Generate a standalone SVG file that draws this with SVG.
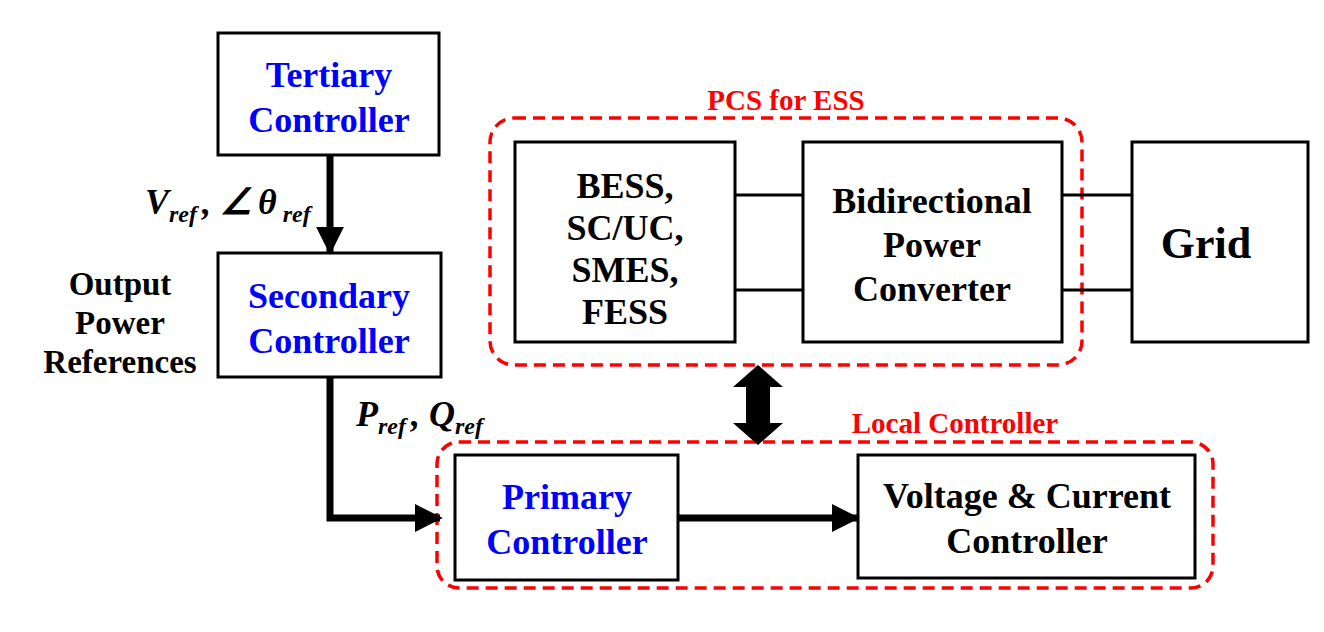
<svg xmlns="http://www.w3.org/2000/svg" width="1324" height="632" viewBox="0 0 1324 632">
<style>
.box{fill:#fff;stroke:#000;stroke-width:3}
.dash{fill:none;stroke:#f00;stroke-width:3.5;stroke-dasharray:12 7}
text{font-family:"Liberation Serif",serif;font-weight:bold;text-anchor:middle}
.b{fill:#00f;font-size:36px}
.k{fill:#000;font-size:36px}
.r{fill:#f00;font-size:29px}
.s{font-size:33px}
.i{font-style:italic;text-anchor:start;font-size:36px}
.sub{font-size:24px}
.line{stroke:#000;stroke-width:3;fill:none}
.thick{stroke:#000;stroke-width:7;fill:none}
</style>
<defs><marker id="ah" viewBox="0 0 10 10" refX="9" refY="5" markerWidth="4" markerHeight="4" markerUnits="strokeWidth" orient="auto"><path d="M0,0L10,5L0,10z" fill="#000"/></marker></defs>
<rect width="1324" height="632" fill="#fff"/>
<g id="pcs"><rect class="dash" x="490" y="118" width="592" height="247" rx="24"/><text class="r" x="786" y="110">PCS for ESS</text></g>
<g id="local"><rect class="dash" x="437" y="442" width="776" height="146" rx="22"/><text class="r" x="955" y="433">Local Controller</text></g>
<g id="tertiary"><rect class="box" x="218" y="33" width="221" height="122"/><text class="b" x="329" y="87">Tertiary</text><text class="b" x="329" y="132">Controller</text></g>
<g id="secondary"><rect class="box" x="218" y="253" width="223" height="124"/><text class="b" x="329" y="308">Secondary</text><text class="b" x="329" y="353">Controller</text></g>
<g id="primary"><rect class="box" x="455" y="455" width="223" height="125"/><text class="b" x="567" y="509">Primary</text><text class="b" x="567" y="554">Controller</text></g>
<g id="vcc"><rect class="box" x="858" y="455" width="337" height="123"/><text class="k" x="1027" y="508">Voltage &amp; Current</text><text class="k" x="1027" y="553">Controller</text></g>
<g id="ess"><rect class="box" x="515" y="142" width="220" height="200"/><text class="k" x="625" y="198">BESS,</text><text class="k" x="625" y="240">SC/UC,</text><text class="k" x="625" y="282">SMES,</text><text class="k" x="625" y="324">FESS</text></g>
<g id="conv"><rect class="box" x="803" y="142" width="259" height="200"/><text class="k" x="932" y="213">Bidirectional</text><text class="k" x="932" y="257">Power</text><text class="k" x="932" y="301">Converter</text></g>
<g id="grid"><rect class="box" x="1132" y="142" width="176" height="200"/><text class="k" style="font-size:44px" x="1206" y="258">Grid</text></g>
<g id="labels">
<text class="k s" x="120" y="295">Output</text><text class="k s" x="120" y="334">Power</text><text class="k s" x="120" y="373">References</text>
<text class="i" x="145" y="214">V<tspan class="sub" dy="8">ref</tspan><tspan dx="5" dy="-8">, ∠</tspan><tspan dx="6">θ</tspan><tspan class="sub" dx="6" dy="8">ref</tspan></text>
<text class="i" x="356" y="426">P<tspan class="sub" dy="8">ref</tspan><tspan dx="5" dy="-8">, Q</tspan><tspan class="sub" dy="8">ref</tspan></text>
</g>
<g id="connectors">
<line class="thick" x1="330" y1="155" x2="330" y2="252" marker-end="url(#ah)"/>
<polyline class="thick" points="330,377 330,518 440,518" marker-end="url(#ah)"/>
<line class="thick" x1="678" y1="518" x2="857" y2="518" marker-end="url(#ah)"/>
<line class="line" x1="735" y1="195" x2="803" y2="195"/>
<line class="line" x1="735" y1="290" x2="803" y2="290"/>
<line class="line" x1="1062" y1="195" x2="1132" y2="195"/>
<line class="line" x1="1062" y1="290" x2="1132" y2="290"/>
<path d="M758,365L783,387L770,387L770,423L783,423L758,445L733,423L746,423L746,387L733,387z" fill="#000"/>
</g>
</svg>
